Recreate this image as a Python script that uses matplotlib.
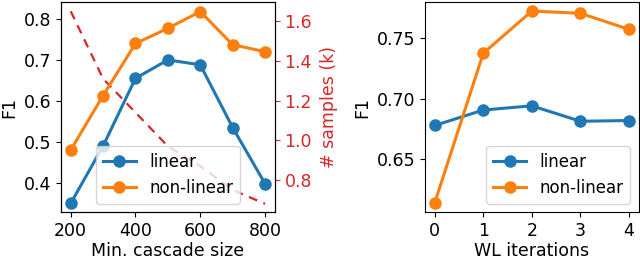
import matplotlib
matplotlib.use("Agg")
import matplotlib.pyplot as plt

# left panel: minimum cascade size
cascade_size = [200, 300, 400, 500, 600, 700, 800]
f1_linear_cs = [0.350, 0.490, 0.655, 0.700, 0.688, 0.535, 0.398]
f1_nonlinear_cs = [0.480, 0.613, 0.740, 0.777, 0.818, 0.737, 0.720]
n_samples_k = [1.65, 1.31, 1.14, 0.97, 0.87, 0.75, 0.68]

# right panel: WL iterations
wl_iters = [0, 1, 2, 3, 4]
f1_linear_wl = [0.6777, 0.6905, 0.6940, 0.6812, 0.6818]
f1_nonlinear_wl = [0.6134, 0.7376, 0.7726, 0.7707, 0.7574]

plt.rcParams['font.size'] = 12.5

fig = plt.figure(figsize=(6.4, 2.62), dpi=100)
ax1 = fig.add_axes([0.0953, 0.191, 0.334, 0.801])
ax2 = fig.add_axes([0.664, 0.191, 0.334, 0.801])

mk = dict(marker='o', markersize=8, linewidth=2.2)

ax1.plot(cascade_size, f1_linear_cs, color='tab:blue', label='linear', **mk)
ax1.plot(cascade_size, f1_nonlinear_cs, color='tab:orange', label='non-linear', **mk)
ax1.set_ylim(0.329, 0.841)
ax1.set_yticks([0.4, 0.5, 0.6, 0.7, 0.8])
ax1.set_xticks([200, 400, 600, 800])
ax1.set_xlabel('Min. cascade size', labelpad=2)
ax1.set_ylabel('F1')
ax1.legend(loc='lower center', fontsize=12)

tw = ax1.twinx()
tw.plot(cascade_size, n_samples_k, color='tab:red', linestyle='--',
        linewidth=1.6, dashes=(4, 3))
tw.set_ylim(0.639, 1.696)
tw.set_yticks([0.8, 1.0, 1.2, 1.4, 1.6])
tw.set_ylabel('# samples (k)', color='tab:red', labelpad=6)
tw.tick_params(axis='y', colors='tab:red')
tw.spines['right'].set_color('black')
ax1.set_zorder(tw.get_zorder() + 1)
ax1.patch.set_visible(False)

ax2.plot(wl_iters, f1_linear_wl, color='tab:blue', label='linear', **mk)
ax2.plot(wl_iters, f1_nonlinear_wl, color='tab:orange', label='non-linear', **mk)
ax2.set_ylim(0.606, 0.780)
ax2.set_yticks([0.65, 0.70, 0.75])
ax2.set_xticks(wl_iters)
ax2.set_xlabel('WL iterations', labelpad=2)
ax2.set_ylabel('F1')
ax2.legend(loc='lower right', fontsize=12)

fig.savefig('out.png', dpi=100)
